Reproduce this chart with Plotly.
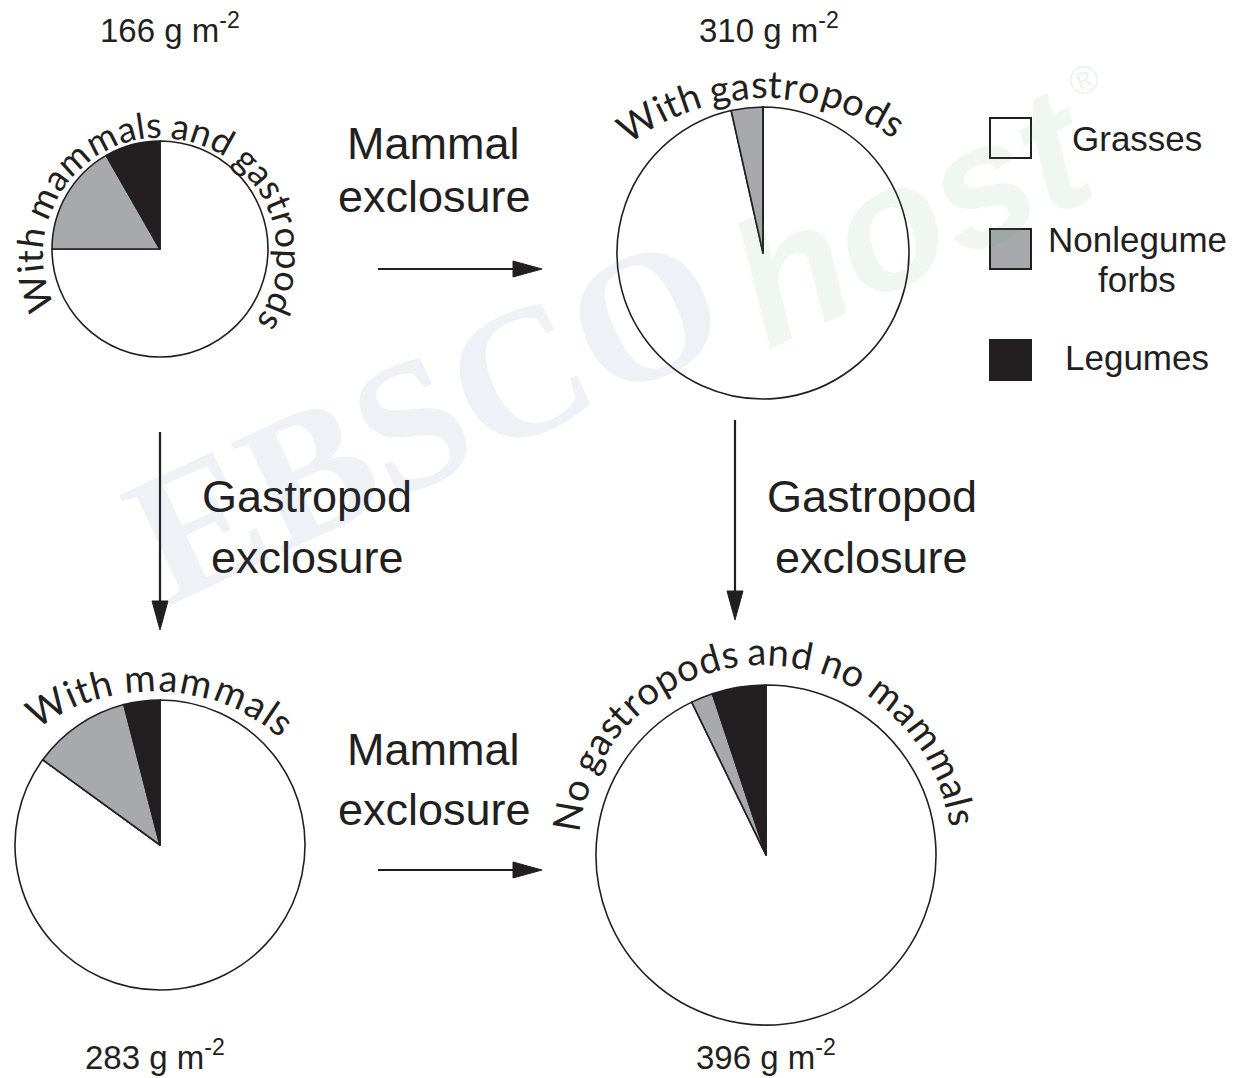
import math
import plotly.graph_objects as go

W0, H0 = 1239, 1078          # window size
OFF = 8                      # default body margin of the html page
W, H = W0 - OFF, H0 - OFF    # figure size

# ---------------- data ----------------
categories = ["Grasses", "Nonlegume forbs", "Legumes"]
treatments = ["With mammals and gastropods", "With gastropods",
              "With mammals", "No gastropods and no mammals"]
biomass = [166, 310, 283, 396]          # g m-2
grasses = [75.0, 96.5, 85.0, 92.8]      # % of biomass
forbs = [16.7, 3.5, 11.0, 2.1]
legumes = [8.3, 0.0, 4.0, 5.1]
transitions = ["Mammal\nexclosure", "Gastropod\nexclosure",
               "Gastropod\nexclosure", "Mammal\nexclosure"]

# ---------------- styles / layout positions (window pixels) ----------------
colors = ["#ffffff", "#a7a9ac", "#231f20"]
INK = "#231f20"
pie_geom = [(160, 249, 108), (763, 253, 146), (160, 845, 145), (766, 855, 170)]
# curved label baselines: centre x, centre y, baseline radius, first-char angle, last-char angle, font size
label_arcs = [(160, 255, 117, -107.2, 121.3, 36),
              (765, 320, 222, -32.9, 33.3, 38),
              (153, 887, 196, -30.8, 38.0, 38),
              (765, 851, 186, -80.1, 80.1, 38)]
biomass_pos = [(170, 28), (769, 28), (155, 1055), (766, 1055)]


def px(x):
    return (x - OFF) / W


def py(y):
    return 1 - (y - OFF) / H


fig = go.Figure()

for i in range(4):
    cx, cy, r = pie_geom[i]
    fig.add_trace(go.Pie(
        labels=categories,
        values=[grasses[i], forbs[i], legumes[i]],
        sort=False, direction="clockwise", rotation=0,
        marker=dict(colors=colors, line=dict(color=INK, width=1.6)),
        textinfo="none", hoverinfo="skip", showlegend=False,
        domain=dict(x=[px(cx - r), px(cx + r)], y=[py(cy + r), py(cy - r)]),
    ))

annotations = []
shapes = []

# ---------- curved labels (Lato advance widths, em) ----------
LATO = {" ": 0.193, "a": 0.473, "d": 0.558, "g": 0.506, "h": 0.554, "i": 0.235,
        "l": 0.235, "m": 0.824, "n": 0.554, "o": 0.555, "p": 0.542, "r": 0.382,
        "s": 0.418, "t": 0.349, "N": 0.75, "W": 0.998}


def curved(text, cx, cy, R, a0, a1, fs):
    widths = [LATO.get(c, 0.5) for c in text]
    centers = []
    cum = 0
    for w in widths:
        centers.append(cum + w / 2)
        cum += w
    c0, c1 = centers[0], centers[-1]
    Rc = R + 0.39 * fs
    for ch, c in zip(text, centers):
        if ch == " ":
            continue
        th = a0 + (c - c0) / (c1 - c0) * (a1 - a0)
        t = math.radians(th)
        x = cx + Rc * math.sin(t)
        y = cy - Rc * math.cos(t)
        annotations.append(dict(
            x=px(x), y=py(y), xref="paper", yref="paper", text=ch,
            showarrow=False, textangle=th, xanchor="center", yanchor="middle",
            font=dict(family="Lato, Open Sans, sans-serif", size=fs, color=INK)))


for name, arc in zip(treatments, label_arcs):
    curved(name, *arc)

# ---------- biomass labels ----------
for b, (x, y) in zip(biomass, biomass_pos):
    annotations.append(dict(
        x=px(x), y=py(y), xref="paper", yref="paper",
        text=f"{b} g m<sup>-2</sup>", showarrow=False,
        xanchor="center", yanchor="middle",
        font=dict(family="Liberation Sans, Arial, sans-serif", size=33, color=INK)))

# ---------- transition labels ----------
trans_pos = [(433, 144, 434, 196), (307, 497, 307, 557),
             (872, 497, 872, 557), (433, 749, 434, 809)]
for t, (x1, y1, x2, y2) in zip(transitions, trans_pos):
    l1, l2 = t.split("\n")
    for txt, x, y in ((l1, x1, y1), (l2, x2, y2)):
        annotations.append(dict(
            x=px(x), y=py(y), xref="paper", yref="paper", text=txt,
            showarrow=False, xanchor="center", yanchor="middle",
            font=dict(family="Liberation Sans, Arial, sans-serif", size=45, color=INK)))


# ---------- arrows ----------
def pth(pts):
    return "M " + " L ".join(f"{px(x):.5f},{py(y):.5f}" for x, y in pts) + " Z"


arrows = [((378, 269), (542, 269)), ((378, 870), (542, 870)),
          ((160, 432), (160, 630)), ((735, 420), (735, 620))]
for (x0, y0), (x1, y1) in arrows:
    L = math.hypot(x1 - x0, y1 - y0)
    ux, uy = (x1 - x0) / L, (y1 - y0) / L
    hl, hw = 29, 8
    bx, by = x1 - ux * hl, y1 - uy * hl
    shapes.append(dict(type="line", xref="paper", yref="paper",
                       x0=px(x0), y0=py(y0), x1=px(bx + ux * 3), y1=py(by + uy * 3),
                       line=dict(color=INK, width=2.2)))
    shapes.append(dict(type="path", xref="paper", yref="paper",
                       path=pth([(x1, y1), (bx - uy * hw, by + ux * hw), (bx + uy * hw, by - ux * hw)]),
                       fillcolor=INK, line=dict(color=INK, width=1)))

# ---------- legend ----------
leg_boxes = [(990, 118), (990, 229), (990, 340)]
for c, (x, y) in zip(colors, leg_boxes):
    shapes.append(dict(type="rect", xref="paper", yref="paper",
                       x0=px(x), x1=px(x + 41), y0=py(y + 40), y1=py(y),
                       fillcolor=c, line=dict(color=INK, width=2)))
leg_text = [("Grasses", 1137, 138), ("Nonlegume", 1137, 239),
            ("forbs", 1137, 280), ("Legumes", 1137, 357)]
for txt, x, y in leg_text:
    annotations.append(dict(
        x=px(x), y=py(y), xref="paper", yref="paper", text=txt,
        showarrow=False, xanchor="center", yanchor="middle",
        font=dict(family="Liberation Sans, Arial, sans-serif", size=35, color=INK)))

# ---------- faint watermark ----------
annotations.append(dict(x=px(425), y=py(418), xref="paper", yref="paper",
                        text="<b>EBSCO</b>", showarrow=False, textangle=-25,
                        xanchor="center", yanchor="middle",
                        font=dict(family="Liberation Serif, serif", size=185,
                                  color="rgba(70,110,160,0.09)")))
annotations.append(dict(x=px(912), y=py(215), xref="paper", yref="paper",
                        text="<b><i>host</i></b>", showarrow=False, textangle=-25,
                        xanchor="center", yanchor="middle",
                        font=dict(family="Liberation Sans, sans-serif", size=175,
                                  color="rgba(90,170,90,0.09)")))
annotations.append(dict(x=px(1083), y=py(80), xref="paper", yref="paper",
                        text="®", showarrow=False, textangle=-24,
                        xanchor="center", yanchor="middle",
                        font=dict(family="Liberation Sans, sans-serif", size=40,
                                  color="rgba(90,170,90,0.12)")))

fig.update_layout(
    width=W, height=H, margin=dict(l=0, r=0, t=0, b=0),
    paper_bgcolor="white", plot_bgcolor="white",
    annotations=annotations, shapes=shapes, showlegend=False,
)
fig.write_html("out.html")
